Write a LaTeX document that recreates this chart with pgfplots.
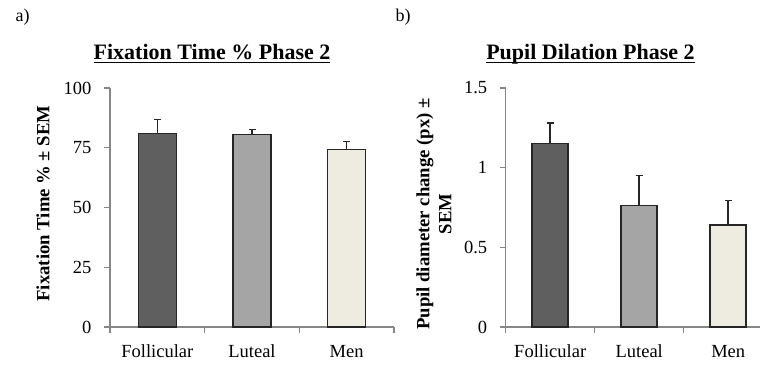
\documentclass[border=0pt]{standalone}
\usepackage{fontspec}
\setmainfont{Liberation Serif}
\usepackage{pgfplots}
\pgfplotsset{compat=1.18}
\definecolor{dk}{HTML}{5F5F5F}
\definecolor{md}{HTML}{A5A5A5}
\definecolor{lt}{HTML}{EEECE1}
\definecolor{ax}{HTML}{868686}
\definecolor{ed}{HTML}{262626}
\newcommand\ul[1]{\setbox0=\hbox{#1}\rlap{\copy0}\rule[-3.5pt]{\wd0}{1.6pt}}
\pgfplotsset{mybars/.style={
  scale only axis, axis x line*=bottom, axis y line*=left,
  axis line style={ax, line width=1.2pt},
  anchor=south west, height=239pt,
  ymin=0, xmin=-0.5,
  xtick={0,1,2}, xticklabels={Follicular,Luteal,Men},
  major x tick style={draw=none},
  minor xtick={-0.5,0.5,1.5,2.5},
  tick align=outside, major tick length=6pt, minor tick length=6pt,
  every tick/.style={ax, line width=1.2pt},
  minor tick style={ax, line width=1.2pt},
  ticklabel style={font=\fontsize{18.5}{22}\selectfont, text=black},
  xticklabel style={yshift=-8pt, text height=13pt, text depth=4pt},
  yticklabel style={xshift=-9pt},
  /pgf/number format/assume math mode=true,
  ybar, bar shift=0pt,
  error bars/y dir=plus, error bars/y explicit, error bars/error mark=|,
  error bars/error bar style={line width=1.5pt, ed},
  error bars/error mark options={line width=1.5pt, ed, mark size=3.5pt},
  clip=false,
}}
\begin{document}
\begin{tikzpicture}
\useasboundingbox (0,0) rectangle (760pt,364pt);
\begin{axis}[mybars, at={(110pt,37pt)}, width=284pt, xmax=2.5, ymax=100,
  ytick={0,25,50,75,100}, bar width=38pt]
\addplot[fill=dk, draw=ed, line width=1.5pt] coordinates {(0,81.0) +- (0,5.9)};
\addplot[fill=md, draw=ed, line width=1.5pt] coordinates {(1,80.5) +- (0,2.2)};
\addplot[fill=lt, draw=ed, line width=1.5pt] coordinates {(2,74.2) +- (0,3.5)};
\end{axis}
\begin{axis}[mybars, at={(505.7pt,37pt)}, width=254.3pt, xmax=2.357, ymax=1.5,
  ytick={0,0.5,1,1.5}, yticklabels={0,0.5,1,1.5}, bar width=36pt]
\addplot[fill=dk, draw=ed, line width=1.5pt] coordinates {(0,1.153) +- (0,0.127)};
\addplot[fill=md, draw=ed, line width=1.5pt] coordinates {(1,0.762) +- (0,0.19)};
\addplot[fill=lt, draw=ed, line width=1.5pt] coordinates {(2,0.641) +- (0,0.152)};
\end{axis}
\node[anchor=base, font=\fontsize{22}{26}\selectfont\bfseries] at (212pt,304pt) {\ul{Fixation Time \% Phase 2}};
\node[anchor=base, font=\fontsize{22}{26}\selectfont\bfseries] at (590.5pt,304pt) {\ul{Pupil Dilation Phase 2}};
\node[anchor=base west, font=\fontsize{18}{22}\selectfont] at (12pt,342pt) {a)};
\node[anchor=base west, font=\fontsize{18}{22}\selectfont] at (392pt,342pt) {b)};
\node[rotate=90, font=\fontsize{18.7}{22}\selectfont\bfseries] at (43pt,160.5pt) {Fixation Time \% ± SEM};
\node[rotate=90, align=center, font=\fontsize{18.7}{22}\selectfont\bfseries] at (434pt,150pt) {Pupil diameter change (px) ±\\SEM};
\end{tikzpicture}
\end{document}
